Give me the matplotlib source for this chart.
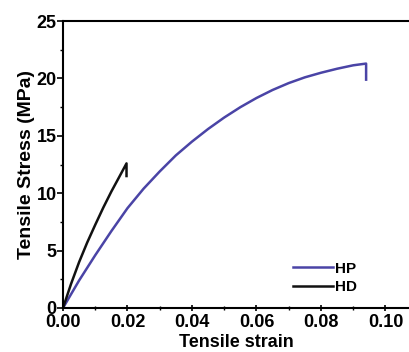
#!/usr/bin/env python3
# Tensile stress-strain curves, HP vs HD

import numpy as np
import matplotlib
matplotlib.use('Agg')
import matplotlib.pyplot as plt
from matplotlib.ticker import MultipleLocator

plt.rcParams.update({
    'font.family': ['Liberation Sans', 'DejaVu Sans'],
    'font.weight': 'bold',
    'axes.linewidth': 1.5,
    'xtick.major.width': 1.2,
    'ytick.major.width': 1.2,
    'xtick.minor.width': 1.0,
    'ytick.minor.width': 1.0,
})

# HP curve, last point is the break drop
hp_strain = [0.0, 0.005, 0.01, 0.015, 0.02, 0.025, 0.03, 0.035, 0.04, 0.045,
             0.05, 0.055, 0.06, 0.065, 0.07, 0.075, 0.08, 0.085, 0.09, 0.094, 0.094]
hp_stress = [0.0, 2.4, 4.6, 6.7, 8.7, 10.4, 11.9, 13.3, 14.5, 15.6,
             16.6, 17.5, 18.3, 19.0, 19.6, 20.1, 20.5, 20.85, 21.15, 21.3, 19.9]

# HD curve
hd_strain = [0.0, 0.0025, 0.005, 0.0075, 0.01, 0.0125, 0.015, 0.0175, 0.0197, 0.0197]
hd_stress = [0.0, 2.1, 4.0, 5.7, 7.25, 8.75, 10.15, 11.45, 12.6, 11.5]

HP_COLOR = '#4a44a6'
HD_COLOR = '#111111'

fig = plt.figure(figsize=(4.09, 3.52), dpi=100)
ax = fig.add_axes([0.154, 0.125, 0.846, 0.815])

ax.plot(hp_strain, hp_stress, color=HP_COLOR, lw=1.8, label='HP')
ax.plot(hd_strain, hd_stress, color=HD_COLOR, lw=1.8, label='HD')

ax.set_xlim(0, 0.1073)
ax.set_ylim(0, 25)
ax.xaxis.set_major_locator(MultipleLocator(0.02))
ax.xaxis.set_minor_locator(MultipleLocator(0.01))
ax.yaxis.set_major_locator(MultipleLocator(5))
ax.yaxis.set_minor_locator(MultipleLocator(2.5))
ax.xaxis.set_major_formatter(matplotlib.ticker.FormatStrFormatter('%.2f'))

ax.tick_params(axis='both', which='major', direction='out', length=4, labelsize=13, pad=0.5)
ax.tick_params(axis='both', which='minor', direction='out', length=2.5)
ax.tick_params(axis='x', which='both', direction='inout', pad=2.5)
ax.spines['right'].set_visible(False)

ax.set_xlabel('Tensile strain', fontsize=13, fontweight='bold', labelpad=2)
ax.set_ylabel('Tensile Stress (MPa)', fontsize=14, fontweight='bold', labelpad=1)

ax.legend(loc='lower right', bbox_to_anchor=(0.89, 0.0), frameon=False,
          handlelength=2.6, handletextpad=0.15, labelspacing=0.3,
          prop={'weight': 'bold', 'size': 11})

plt.savefig('out.png', dpi=100)
plt.close()
